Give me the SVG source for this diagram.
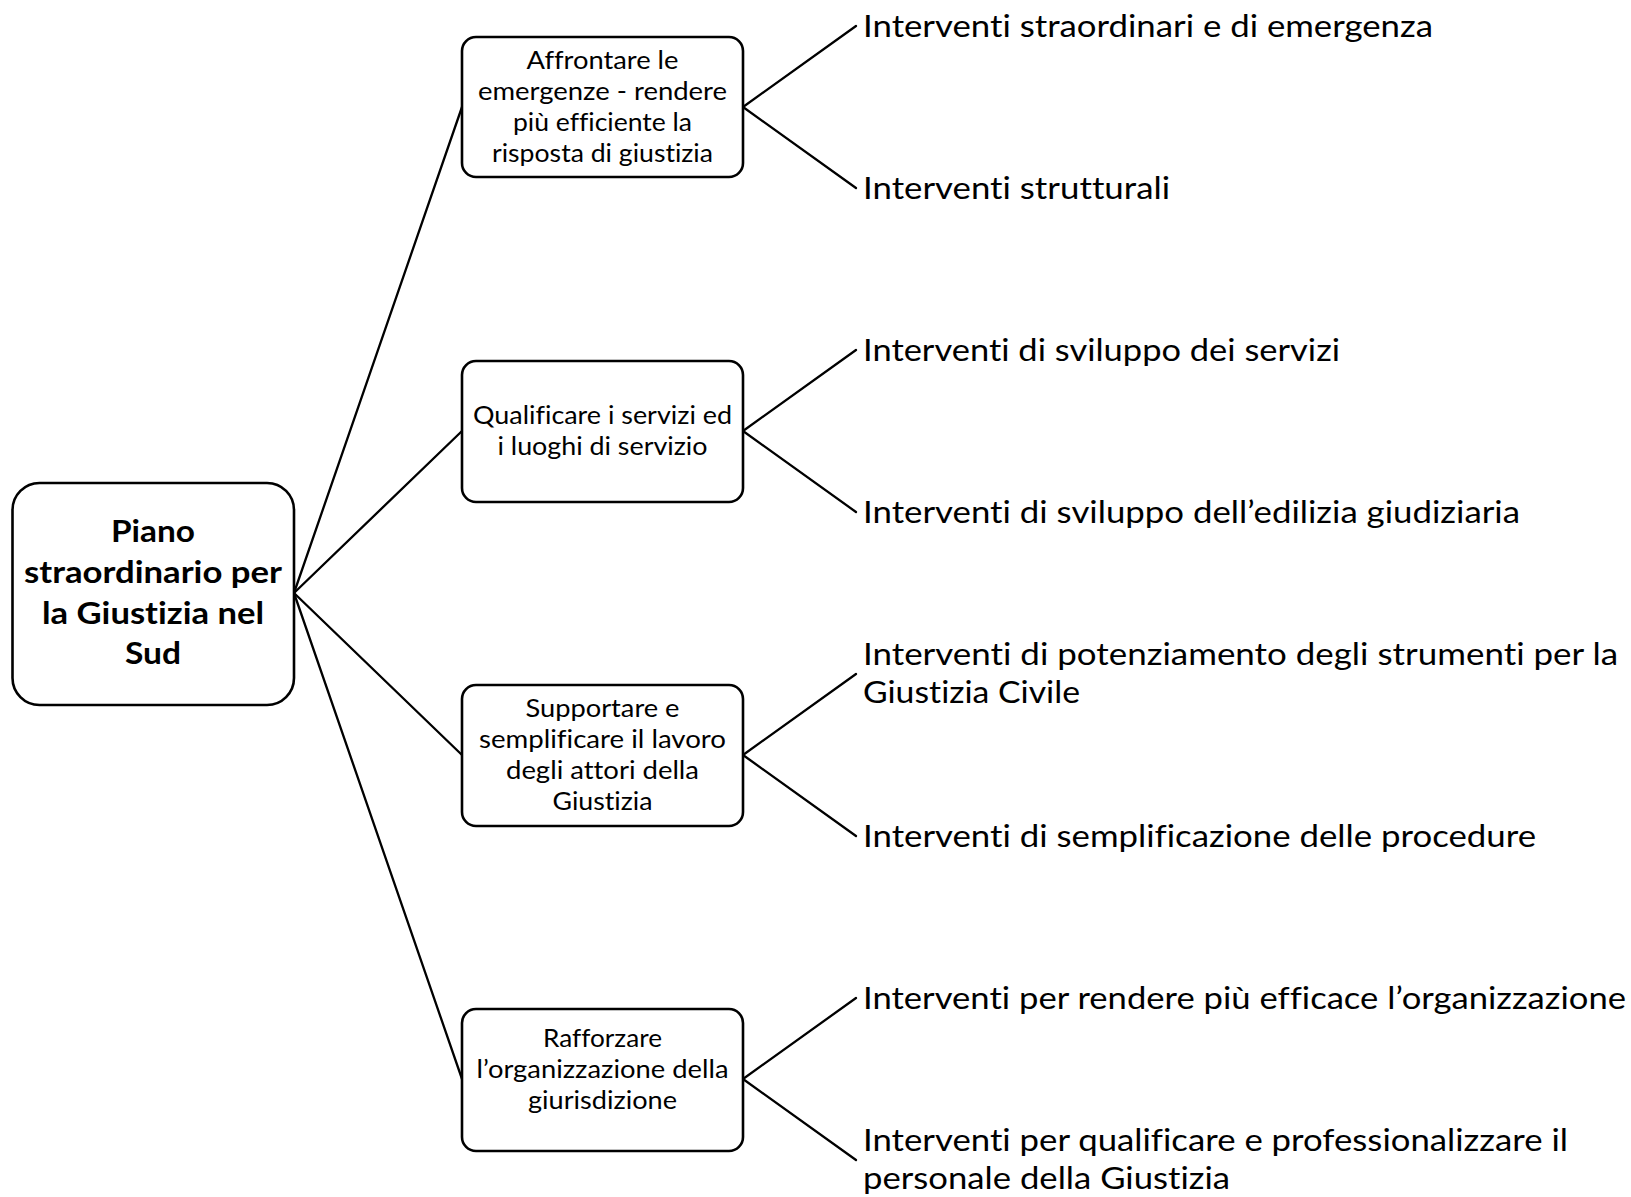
<svg xmlns="http://www.w3.org/2000/svg" width="1631" height="1197" viewBox="0 0 1631 1197">
<style>
.bg{fill:#ffffff}
.box{fill:#ffffff;stroke:#000000;stroke-width:2.6}
.edge{stroke:#000000;stroke-width:2.3;fill:none;stroke-linecap:round}
text{font-variant-ligatures:none;font-feature-settings:"liga" 0,"clig" 0,"dlig" 0,"calt" 0}
.root{font-family:Lato,"Open Sans","Liberation Sans",sans-serif;font-weight:bold;font-size:30px;fill:#000;text-anchor:middle}
.mid{font-family:Lato,"Open Sans","Liberation Sans",sans-serif;font-size:24.5px;fill:#000;text-anchor:middle}
.leaf{font-family:Lato,"Open Sans","Liberation Sans",sans-serif;font-size:31.5px;fill:#000}
</style>
<rect class="bg" x="0" y="0" width="1631" height="1197"/>
<g id="connectors">
<line class="edge" x1="294" y1="593" x2="462" y2="107"/>
<line class="edge" x1="294" y1="593" x2="462" y2="431"/>
<line class="edge" x1="294" y1="593" x2="462" y2="755"/>
<line class="edge" x1="294" y1="593" x2="462" y2="1079"/>
<line class="edge" x1="743" y1="107" x2="856" y2="26"/>
<line class="edge" x1="743" y1="107" x2="856" y2="188"/>
<line class="edge" x1="743" y1="431" x2="856" y2="350"/>
<line class="edge" x1="743" y1="431" x2="856" y2="512"/>
<line class="edge" x1="743" y1="755" x2="856" y2="674"/>
<line class="edge" x1="743" y1="755" x2="856" y2="836"/>
<line class="edge" x1="743" y1="1079" x2="856" y2="998"/>
<line class="edge" x1="743" y1="1079" x2="856" y2="1160"/>
</g>
<g id="root">
<rect class="box" x="12.5" y="483" width="281.5" height="222" rx="27" ry="27"/>
<text class="root" x="153" y="542" textLength="84" lengthAdjust="spacingAndGlyphs">Piano</text>
<text class="root" x="153" y="583" textLength="258" lengthAdjust="spacingAndGlyphs">straordinario per</text>
<text class="root" x="153" y="624" textLength="222" lengthAdjust="spacingAndGlyphs">la Giustizia nel</text>
<text class="root" x="153" y="664" textLength="56" lengthAdjust="spacingAndGlyphs">Sud</text>
</g>
<g id="n1">
<rect class="box" x="462" y="37" width="281" height="140" rx="14" ry="14"/>
<text class="mid" x="602.5" y="69" textLength="152" lengthAdjust="spacingAndGlyphs">Affrontare le</text>
<text class="mid" x="602.5" y="100" textLength="249" lengthAdjust="spacingAndGlyphs">emergenze - rendere</text>
<text class="mid" x="602.5" y="131" textLength="179" lengthAdjust="spacingAndGlyphs">più efficiente la</text>
<text class="mid" x="602.5" y="162" textLength="221" lengthAdjust="spacingAndGlyphs">risposta di giustizia</text>
</g>
<g id="n2">
<rect class="box" x="462" y="361" width="281" height="141" rx="14" ry="14"/>
<text class="mid" x="602.5" y="424" textLength="259" lengthAdjust="spacingAndGlyphs">Qualificare i servizi ed</text>
<text class="mid" x="602.5" y="455" textLength="210" lengthAdjust="spacingAndGlyphs">i luoghi di servizio</text>
</g>
<g id="n3">
<rect class="box" x="462" y="685" width="281" height="141" rx="14" ry="14"/>
<text class="mid" x="602.5" y="717" textLength="154" lengthAdjust="spacingAndGlyphs">Supportare e</text>
<text class="mid" x="602.5" y="748" textLength="247" lengthAdjust="spacingAndGlyphs">semplificare il lavoro</text>
<text class="mid" x="602.5" y="779" textLength="193" lengthAdjust="spacingAndGlyphs">degli attori della</text>
<text class="mid" x="602.5" y="810" textLength="100" lengthAdjust="spacingAndGlyphs">Giustizia</text>
</g>
<g id="n4">
<rect class="box" x="462" y="1009" width="281" height="142" rx="14" ry="14"/>
<text class="mid" x="602.5" y="1047" textLength="119" lengthAdjust="spacingAndGlyphs">Rafforzare</text>
<text class="mid" x="602.5" y="1078" textLength="252" lengthAdjust="spacingAndGlyphs">l’organizzazione della</text>
<text class="mid" x="602.5" y="1109" textLength="149" lengthAdjust="spacingAndGlyphs">giurisdizione</text>
</g>
<g id="leaf1"><text class="leaf" x="863" y="37" textLength="570" lengthAdjust="spacingAndGlyphs">Interventi straordinari e di emergenza</text></g>
<g id="leaf2"><text class="leaf" x="863" y="199" textLength="307" lengthAdjust="spacingAndGlyphs">Interventi strutturali</text></g>
<g id="leaf3"><text class="leaf" x="863" y="361" textLength="477" lengthAdjust="spacingAndGlyphs">Interventi di sviluppo dei servizi</text></g>
<g id="leaf4"><text class="leaf" x="863" y="523" textLength="657" lengthAdjust="spacingAndGlyphs">Interventi di sviluppo dell’edilizia giudiziaria</text></g>
<g id="leaf5">
<text class="leaf" x="863" y="665" textLength="755" lengthAdjust="spacingAndGlyphs">Interventi di potenziamento degli strumenti per la</text>
<text class="leaf" x="863" y="703" textLength="217" lengthAdjust="spacingAndGlyphs">Giustizia Civile</text>
</g>
<g id="leaf6"><text class="leaf" x="863" y="847" textLength="673" lengthAdjust="spacingAndGlyphs">Interventi di semplificazione delle procedure</text></g>
<g id="leaf7"><text class="leaf" x="863" y="1009" textLength="763" lengthAdjust="spacingAndGlyphs">Interventi per rendere più efficace l’organizzazione</text></g>
<g id="leaf8">
<text class="leaf" x="863" y="1151" textLength="705" lengthAdjust="spacingAndGlyphs">Interventi per qualificare e professionalizzare il</text>
<text class="leaf" x="863" y="1189" textLength="367" lengthAdjust="spacingAndGlyphs">personale della Giustizia</text>
</g>
</svg>
